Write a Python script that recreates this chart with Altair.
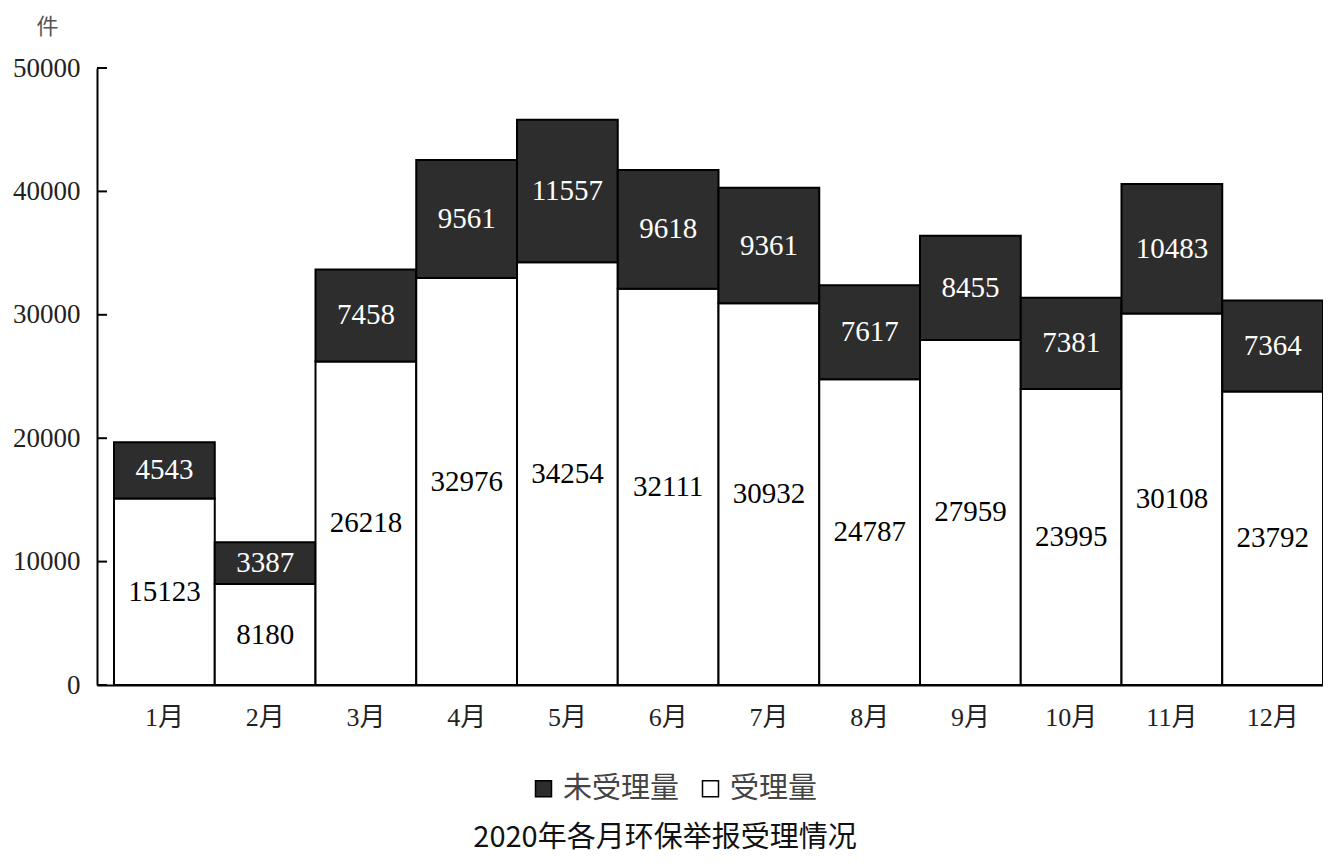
import altair as alt
import pandas as pd

months = [f"{i}月" for i in range(1, 13)]
accepted = [15123, 8180, 26218, 32976, 34254, 32111, 30932, 24787, 27959, 23995, 30108, 23792]
unaccepted = [4543, 3387, 7458, 9561, 11557, 9618, 9361, 7617, 8455, 7381, 10483, 7364]
tick_values = [0, 10000, 20000, 30000, 40000, 50000]
series = ["未受理量", "受理量"]
title_text = "2020年各月环保举报受理情况"

rows = []
for m, a, u in zip(months, accepted, unaccepted):
    rows.append({"month": m, "type": "受理量", "value": a, "order": 0})
    rows.append({"month": m, "type": "未受理量", "value": u, "order": 1})
df = pd.DataFrame(rows)

SERIF = "Liberation Serif, Noto Sans CJK SC"
CJK = "Noto Sans CJK SC"

xscale = alt.Scale(paddingInner=0, paddingOuter=0.0844, align=1)

base = alt.Chart(df).transform_stack(
    stack="value", as_=["y0", "y1"], groupby=["month"], sort=[alt.SortField("order")]
).transform_calculate(mid="(datum.y0 + datum.y1) / 2")

bars = base.mark_bar(stroke="black", strokeWidth=2).encode(
    x=alt.X("month:N", sort=months, scale=xscale,
            axis=alt.Axis(title=None, labelAngle=0, ticks=False, domainColor="black",
                          domainWidth=2, labelFont=SERIF, labelFontSize=26,
                          labelPadding=19, labelColor="#222")),
    y=alt.Y("y0:Q", scale=alt.Scale(domain=[0, 50000], nice=False),
            axis=alt.Axis(values=tick_values, format="d", ticks=False, grid=False,
                          domainColor="black", domainWidth=2, labelFont=SERIF,
                          labelFontSize=27, labelColor="#222", labelPadding=17,
                          title="件", titleAngle=0, titleX=-50, titleY=-42,
                          titleAlign="center", titleBaseline="middle",
                          titleFont=CJK, titleFontWeight="normal", titleFontSize=22,
                          titleColor="#555")),
    y2="y1:Q",
    color=alt.Color("type:N", scale=alt.Scale(domain=series, range=["#2d2d2d", "#ffffff"]),
                    legend=alt.Legend(title=None, orient="none", legendX=432, legendY=706,
                                      direction="horizontal", symbolType="square",
                                      symbolSize=256, symbolStrokeColor="black",
                                      symbolStrokeWidth=1.5, labelFont=CJK,
                                      labelFontSize=29, labelColor="#444",
                                      columnPadding=16, labelOffset=5)),
)

text = base.mark_text(font="Liberation Serif", fontSize=29, baseline="middle").encode(
    x=alt.X("month:N", sort=months, scale=xscale),
    y=alt.Y("mid:Q"),
    text=alt.Text("value:Q", format="d"),
    color=alt.condition(alt.datum.type == "未受理量", alt.value("white"), alt.value("black")),
)

ticks = alt.Chart(pd.DataFrame({"t": tick_values})).mark_rule(color="black", strokeWidth=2).encode(
    y=alt.Y("t:Q"), x=alt.value(0), x2=alt.value(10)
)

chart = alt.layer(bars, text, ticks).properties(
    width=1226, height=617,
    autosize=alt.AutoSizeParams(type="none"),
    padding={"left": 89, "top": 60, "right": 0, "bottom": 170},
    title=alt.Title(title_text, orient="bottom", anchor="middle", offset=20, dx=-45,
                    font=CJK, fontSize=29, fontWeight="normal", color="#111"),
).configure_view(stroke=None)

chart.save("out.html", embed_options={"renderer": "svg", "actions": False})
